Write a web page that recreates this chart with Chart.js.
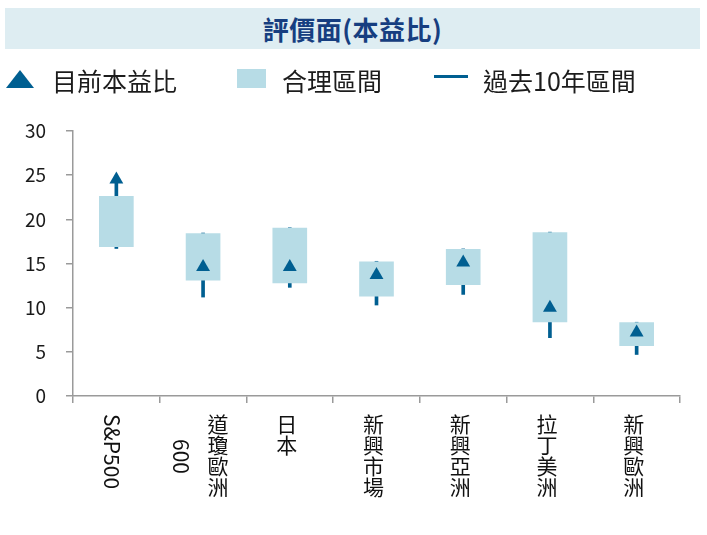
<!DOCTYPE html>
<html>
<head>
<meta charset="utf-8">
<script src="https://cdn.jsdelivr.net/npm/chart.js@4"></script>
<style>
  body { margin: 0; background: #fff; font-family: "Noto Sans CJK TC", "Noto Sans", sans-serif; }
  #wrap { position: relative; width: 707px; height: 535px; overflow: hidden; }
  #pe { position: absolute; left: 0; top: 0; }
  .title {
    position: absolute; left: 5px; top: 8px; width: 695px; height: 41px;
    background: rgb(222, 237, 242); color: rgb(22, 62, 128);
    font-weight: bold; font-size: 26px; line-height: 41px; text-align: center;
    letter-spacing: 0.5px;
  }
  .lg { position: absolute; top: 62px; font-size: 25px; line-height: 36px; color: #1c1c1c; white-space: nowrap; }
  .xl {
    position: absolute; writing-mode: vertical-rl; text-orientation: mixed;
    transform: translateX(-50%); font-size: 21px; line-height: 36px;
    text-align: center; color: #111; white-space: nowrap;
  }
</style>
</head>
<body>
<div id="wrap">
  <canvas id="pe" width="707" height="535"></canvas>
  <div class="title">評價面(本益比)</div>

  <svg style="position:absolute;left:6px;top:70px" width="28" height="18">
    <polygon points="14,0 28,18 0,18" fill="rgb(0,95,145)"></polygon>
  </svg>
  <div class="lg" style="left:52px">目前本益比</div>
  <div style="position:absolute;left:237px;top:69px;width:29px;height:19px;background:rgb(183,220,230)"></div>
  <div class="lg" style="left:282px">合理區間</div>
  <div style="position:absolute;left:434px;top:75px;width:34px;height:3px;background:rgb(0,95,145)"></div>
  <div class="lg" style="left:483px">過去10年區間</div>

  <div id="xlabels"></div>
</div>
<script>
  // 本益比資料
  const categories = ["S&P500", "道瓊歐洲\n600", "日本", "新興市場", "新興亞洲", "拉丁美洲", "新興歐洲"];
  const currentPE = [24.5, 14.6, 14.6, 13.7, 15.1, 10.0, 7.2];
  const fairLow = [16.9, 13.1, 12.8, 11.3, 12.6, 8.4, 5.7];
  const fairHigh = [22.6, 18.4, 19.0, 15.2, 16.6, 18.5, 8.3];
  const tenYrLow = [16.7, 11.2, 12.3, 10.3, 11.5, 6.6, 4.7];
  const tenYrHigh = [24.3, 18.45, 19.05, 15.25, 16.65, 18.55, 8.35];
  const yTicks = [0, 5, 10, 15, 20, 25, 30];

  const darkBlue = "rgb(0, 95, 145)";
  const lightBlue = "rgb(183, 220, 230)";
  const axisGray = "#9a9a9a";

  // x 軸文字用直書 HTML 放在刻度位置
  const xLabelPlugin = {
    id: "xLabels",
    afterDraw(chart) {
      const box = document.getElementById("xlabels");
      box.innerHTML = "";
      const xs = chart.scales.x;
      categories.forEach((c, i) => {
        const d = document.createElement("div");
        d.className = "xl";
        d.innerHTML = c.split("\n").join("<br>");
        d.style.left = (xs.getPixelForValue(i) - 3) + "px";
        d.style.top = (xs.top + 18) + "px";
        box.appendChild(d);
      });
    }
  };

  new Chart(document.getElementById("pe"), {
    type: "bar",
    data: {
      labels: categories,
      datasets: [
        {
          type: "line",
          label: "目前本益比",
          data: currentPE,
          showLine: false,
          pointStyle: "triangle",
          pointRadius: 8,
          pointBackgroundColor: darkBlue,
          pointBorderWidth: 0,
          order: 0
        },
        {
          label: "合理區間",
          data: fairLow.map((v, i) => [v, fairHigh[i]]),
          backgroundColor: lightBlue,
          barThickness: 34,
          grouped: false,
          order: 1
        },
        {
          label: "過去10年區間",
          data: tenYrLow.map((v, i) => [v, tenYrHigh[i]]),
          backgroundColor: darkBlue,
          barThickness: 3,
          grouped: false,
          order: 2
        }
      ]
    },
    options: {
      responsive: false,
      animation: false,
      layout: { padding: { top: 131, right: 27, bottom: 0, left: 0 } },
      plugins: {
        legend: { display: false },
        tooltip: { enabled: false },
        title: { display: false }
      },
      scales: {
        x: {
          ticks: { display: false },
          grid: { drawOnChartArea: false, tickLength: 7, color: axisGray, lineWidth: 1.5, offset: true },
          border: { color: axisGray, width: 1.5 },
          afterFit(s) { s.height = 139; }
        },
        y: {
          min: 0,
          max: 30,
          afterBuildTicks(s) { s.ticks = yTicks.map(v => ({ value: v })); },
          ticks: {
            padding: 20,
            color: "#1a1a1a",
            font: { size: 19, family: "'Noto Sans CJK TC', 'Noto Sans', sans-serif" }
          },
          grid: { drawOnChartArea: false, tickLength: 7, color: axisGray, lineWidth: 1.5 },
          border: { color: axisGray, width: 1.5 },
          afterFit(s) { s.width = 73; }
        }
      }
    },
    plugins: [xLabelPlugin]
  });
</script>
</body>
</html>
